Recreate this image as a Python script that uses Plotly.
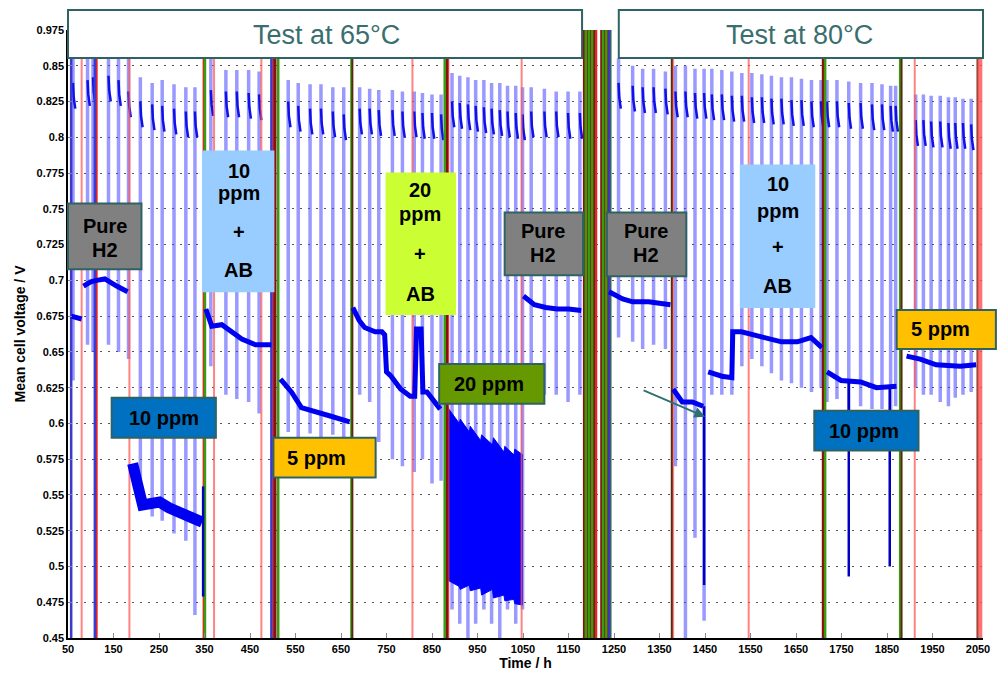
import plotly.graph_objects as go

# ---------------- data ----------------
x_ticks = [50, 150, 250, 350, 450, 550, 650, 750, 850, 950, 1050, 1150, 1250,
           1350, 1450, 1550, 1650, 1750, 1850, 1950, 2050]
y_ticks = [0.45, 0.475, 0.5, 0.525, 0.55, 0.575, 0.6, 0.625, 0.65, 0.675, 0.7,
           0.725, 0.75, 0.775, 0.8, 0.825, 0.85, 0.875]
y_ticktext = ["0.45", "0.475", "0.5", "0.525", "0.55", "0.575", "0.6", "0.625",
              "0.65", "0.675", "0.7", "0.725", "0.75", "0.775", "0.8", "0.825",
              "0.85", "0.975"]

# baseline voltage (None separates segments)
base_t = [57, 80, None,
          84, 100, 113, 131, 157, 181, None,
          353, 366, 388, 410, 432, 462, 497, None,
          517, 541, 563, 600, 628, 669, None,
          676, 690, 702, 725, 740, 746, 750, 760, 781, 802, 812, 816, 826, 830, 839, 855, 868, None,
          1051, 1075, 1100, 1125, 1150, 1178, None,
          1239, 1269, 1291, 1326, 1374, None,
          1380, 1400, 1422, 1446, None,
          1457, 1487, 1509, 1511, 1530, 1587, 1618, 1653, 1683, 1707, None,
          1718, 1749, 1792, 1827, 1871, None,
          1893, 1923, 1958, 2011, 2046]
base_v = [0.675, 0.673, None,
          0.696, 0.699, 0.700, 0.701, 0.696, 0.692, None,
          0.680, 0.668, 0.669, 0.664, 0.659, 0.655, 0.655, None,
          0.631, 0.622, 0.611, 0.608, 0.605, 0.601, None,
          0.681, 0.672, 0.667, 0.664, 0.664, 0.662, 0.636, 0.633, 0.624, 0.619, 0.619, 0.666, 0.666, 0.622, 0.622, 0.615, 0.610, None,
          0.689, 0.683, 0.681, 0.680, 0.680, 0.679, None,
          0.692, 0.687, 0.685, 0.685, 0.683, None,
          0.624, 0.615, 0.615, 0.612, None,
          0.636, 0.633, 0.632, 0.664, 0.664, 0.660, 0.657, 0.657, 0.660, 0.653, None,
          0.636, 0.630, 0.629, 0.625, 0.626, None,
          0.647, 0.645, 0.641, 0.640, 0.641]

# noisy 10 ppm segment at 65 C
noisy_t = [192, 198, 204, 214, 251, 272, 301, 323, 345]
noisy_v = [0.572, 0.566, 0.556, 0.543, 0.545, 0.541, 0.536, 0.534, 0.531]

# dense 20 ppm block (upper / lower envelope)
block_t = [885, 887, 910, 912, 932, 934, 957, 959, 983, 985, 1008, 1010, 1030, 1032, 1050]
block_top = [0.612, 0.610, 0.600, 0.603, 0.594, 0.598, 0.588, 0.592, 0.585, 0.590,
             0.580, 0.584, 0.578, 0.582, 0.578]
block_bot = [0.492, 0.490, 0.486, 0.484, 0.487, 0.483, 0.485, 0.480, 0.484, 0.478,
             0.480, 0.476, 0.477, 0.474, 0.473]

# sharp drops of the voltage
drop_t = [347, 1448, 1766, 1856]
drop_hi = [0.556, 0.612, 0.629, 0.625]
drop_lo = [0.479, 0.487, 0.493, 0.500]

# periodic spikes (refresh / polarisation)
spike_t = [61, 93, 105, 139, 161, 183,
           209, 235, 257, 283, 309, 329,
           364, 397, 421, 447, 470,
           534, 556, 582, 606, 632, 656,
           691, 713, 733, 763, 785, 811, 829, 850, 870,
           894, 911, 929, 946, 964, 981, 999, 1016, 1034, 1049,
           1068, 1097, 1123, 1149, 1175,
           1260, 1291, 1313, 1337, 1363,
           1385, 1407, 1428, 1448,
           1465, 1487, 1509, 1531, 1553, 1575, 1596, 1618, 1640, 1662, 1684, 1705,
           1718, 1740, 1766, 1792, 1817, 1839, 1858, 1869,
           1913, 1930, 1947, 1967, 1985, 2000, 2017, 2035]
spike_lo = [0.630, 0.655, 0.650, 0.655, 0.650, 0.645,
            0.553, 0.535, 0.532, 0.523, 0.518, 0.466,
            0.640, 0.620, 0.617, 0.615, 0.607,
            0.594, 0.590, 0.593, 0.590, 0.592, 0.588,
            0.620, 0.615, 0.587, 0.575, 0.570, 0.566, 0.575, 0.558, 0.560,
            0.470, 0.460, 0.450, 0.460, 0.470, 0.460, 0.450, 0.470, 0.460, 0.470,
            0.625, 0.620, 0.620, 0.615, 0.620,
            0.660, 0.657, 0.652, 0.655, 0.652,
            0.570, 0.450, 0.520, 0.462,
            0.620, 0.620, 0.620, 0.640, 0.645, 0.640, 0.635, 0.630, 0.628, 0.625, 0.622, 0.625,
            0.615, 0.617, 0.600, 0.612, 0.610, 0.610, 0.590, 0.612,
            0.625, 0.620, 0.620, 0.615, 0.612, 0.618, 0.620, 0.622]
spike_hi = [0.875, 0.875, 0.875, 0.875, 0.875, 0.875,
            0.842, 0.838, 0.840, 0.837, 0.835, 0.835,
            0.855, 0.847, 0.847, 0.847, 0.846,
            0.840, 0.838, 0.837, 0.837, 0.835, 0.835,
            0.835, 0.834, 0.833, 0.833, 0.832, 0.832, 0.831, 0.830, 0.830,
            0.845, 0.843, 0.842, 0.840, 0.840, 0.838, 0.838, 0.836, 0.836, 0.835,
            0.835, 0.834, 0.832, 0.832, 0.832,
            0.855, 0.850, 0.848, 0.848, 0.846,
            0.850, 0.850, 0.848, 0.848,
            0.848, 0.847, 0.846, 0.845, 0.845, 0.844, 0.843, 0.842, 0.842, 0.841, 0.840, 0.840,
            0.840, 0.840, 0.839, 0.838, 0.838, 0.837, 0.836, 0.836,
            0.830, 0.830, 0.829, 0.829, 0.828, 0.828, 0.827, 0.827]
spike_hook = [0.828, 0.830, 0.832, 0.833, 0.830, 0.822,
              0.815, 0.813, 0.812, 0.810, 0.808, 0.808,
              0.823, 0.822, 0.822, 0.821, 0.820,
              0.815, 0.812, 0.810, 0.810, 0.808, 0.806,
              0.810, 0.810, 0.809, 0.809, 0.808, 0.808, 0.807, 0.807, 0.806,
              0.815, 0.814, 0.813, 0.812, 0.811, 0.810, 0.809, 0.808, 0.807, 0.806,
              0.808, 0.808, 0.808, 0.807, 0.807,
              0.828, 0.826, 0.825, 0.825, 0.824,
              0.822, 0.822, 0.821, 0.821,
              0.820, 0.820, 0.819, 0.819, 0.818, 0.818, 0.817, 0.817, 0.816, 0.816, 0.815, 0.815,
              0.815, 0.815, 0.814, 0.814, 0.813, 0.813, 0.812, 0.812,
              0.802, 0.802, 0.801, 0.801, 0.800, 0.800, 0.800, 0.799]

# vertical event markers
mark_pink = [80, 185, 371, 475, 807, 886, 1047, 1380, 1546, 1911]
mark_red = [113, 348, 501, 1211]
mark_darkred = [505, 883, 1710, 1185, 1192, 1199, 1206, 1223, 1230, 1236]
mark_green = [351, 512, 673, 878, 1714, 1879, 1188, 1195, 1202, 1226, 1233, 1242]
mark_brown = [675, 1377, 1882, 2049]
mark_blue = [57, 109, 497, 1240]
mark_redband = [2054]

# ---------------- figure ----------------
Y0, Y1 = 0.45, 0.875
fig = go.Figure()


def vlines(ts, lo, hi):
    xs, ys = [], []
    for i, t in enumerate(ts):
        a = lo[i] if isinstance(lo, list) else lo
        b = hi[i] if isinstance(hi, list) else hi
        xs += [t, t, None]
        ys += [a, b, None]
    return xs, ys


# spikes (light blue)
sx, sy = vlines(spike_t, spike_lo, spike_hi)
fig.add_trace(go.Scatter(x=sx, y=sy, mode="lines",
                         line=dict(color="rgba(70,70,255,0.55)", width=3.5),
                         hoverinfo="skip", showlegend=False))

# hooks near the top of each spike
hx, hy = [], []
for t, h in zip(spike_t, spike_hook):
    hx += [t, t + 1.5, t + 5, None]
    hy += [h + 0.010, h, h - 0.008, None]
fig.add_trace(go.Scatter(x=hx, y=hy, mode="lines",
                         line=dict(color="#1010e8", width=2.5),
                         hoverinfo="skip", showlegend=False))

# dense 20 ppm block
fig.add_trace(go.Scatter(x=block_t, y=block_bot, mode="lines",
                         line=dict(color="#0000ff", width=1),
                         hoverinfo="skip", showlegend=False))
fig.add_trace(go.Scatter(x=block_t, y=block_top, mode="lines", fill="tonexty",
                         fillcolor="#0000ff", line=dict(color="#0000ff", width=1),
                         hoverinfo="skip", showlegend=False))

# markers
for ts, col, w in [(mark_pink, "rgba(255,90,90,0.75)", 2),
                   (mark_red, "#e82020", 2),
                   (mark_darkred, "#8a1010", 3),
                   (mark_green, "#3a9a10", 2.5),
                   (mark_brown, "#5a2a10", 2),
                   (mark_blue, "#3a3ad0", 2.5),
                   (mark_redband, "rgba(255,80,80,0.8)", 5)]:
    mx, my = vlines(ts, Y0, Y1)
    fig.add_trace(go.Scatter(x=mx, y=my, mode="lines", line=dict(color=col, width=w),
                             hoverinfo="skip", showlegend=False))

# baseline
fig.add_trace(go.Scatter(x=base_t, y=base_v, mode="lines",
                         line=dict(color="#0000f0", width=5),
                         hoverinfo="skip", showlegend=False))
fig.add_trace(go.Scatter(x=noisy_t, y=noisy_v, mode="lines",
                         line=dict(color="#0000f0", width=11),
                         hoverinfo="skip", showlegend=False))
dx, dy = vlines(drop_t, drop_lo, drop_hi)
fig.add_trace(go.Scatter(x=dx, y=dy, mode="lines",
                         line=dict(color="#0000c0", width=2.5),
                         hoverinfo="skip", showlegend=False))

# ---------------- layout helpers (pixel -> paper) ----------------
L, R, T, B = 68, 990, 30, 640


def px(x):
    return (x - L) / (R - L)


def py(y):
    return (B - y) / (B - T)


shapes, annos = [], []
BORDER = "#2f6262"
FONT = "Liberation Sans, Arial, sans-serif"


def box(x0, y0, x1, y1, fill, border=True):
    shapes.append(dict(type="rect", xref="paper", yref="paper", layer="above",
                       x0=px(x0), x1=px(x1), y0=py(y1), y1=py(y0),
                       fillcolor=fill,
                       line=dict(color=BORDER if border else fill, width=2 if border else 0)))


def text(x, y, s, size=20, color="black", bold=True):
    annos.append(dict(xref="paper", yref="paper", x=px(x), y=py(y), text=s,
                      showarrow=False, xanchor="center", yanchor="middle",
                      font=dict(family=FONT, size=size, color=color,
                                weight="bold" if bold else "normal")))


# top boxes
box(68, 10, 586, 58, "white")
text(328, 35, "Test at 65°C", size=27, color="#3b6e6e", bold=False)
box(623, 10, 990, 58, "white")
text(805, 35, "Test at 80°C", size=27, color="#3b6e6e", bold=False)

# condition labels
box(68, 204, 142, 270, "#808080")
text(105, 227, "Pure")
text(105, 251, "H2")
box(203, 151, 276, 293, "#99ccff", border=False)
text(240, 171, "10")
text(240, 194, "ppm")
text(240, 233, "+")
text(240, 271, "AB")
box(112, 399, 217, 439, "#0070c0")
text(165, 419, "10 ppm")
box(275, 439, 378, 479, "#ffc000")
text(318, 459, "5 ppm")
box(388, 173, 459, 316, "#ccff33", border=False)
text(423, 191, "20")
text(423, 215, "ppm")
text(423, 255, "+")
text(423, 295, "AB")
box(508, 213, 587, 276, "#808080")
text(547, 232, "Pure")
text(547, 256, "H2")
box(442, 365, 548, 405, "#669900")
text(492, 385, "20 ppm")
box(611, 213, 691, 277, "#808080")
text(650, 232, "Pure")
text(650, 256, "H2")
box(745, 165, 821, 309, "#99ccff", border=False)
text(783, 185, "10")
text(783, 212, "ppm")
text(783, 248, "+")
text(783, 287, "AB")
box(820, 412, 925, 452, "#0070c0")
text(870, 432, "10 ppm")
box(903, 311, 1003, 350, "#ffc000")
text(947, 330, "5 ppm")

# arrow
annos.append(dict(xref="paper", yref="paper", x=px(710), y=py(418), ax=-63, ay=-27,
                  axref="pixel", ayref="pixel", text="", showarrow=True,
                  arrowhead=2, arrowsize=1.2, arrowwidth=1.8, arrowcolor="#2f6f6f"))

tickfont = dict(family=FONT, size=11, color="black", weight="bold")
fig.update_layout(
    width=1000, height=677,
    margin=dict(l=L, r=1000 - R, t=T, b=677 - B),
    paper_bgcolor="white", plot_bgcolor="white",
    showlegend=False,
    shapes=shapes, annotations=annos,
    xaxis=dict(range=[50, 2061], tickvals=x_ticks, showgrid=False,
               showline=True, linecolor="black", linewidth=1.5,
               ticks="inside", ticklen=5, tickcolor="#888", tickfont=tickfont,
               zeroline=False,
               title=dict(text="Time / h", font=dict(family=FONT, size=14, color="black", weight="bold"),
                          standoff=2)),
    yaxis=dict(range=[Y0, Y1], tickvals=y_ticks, ticktext=y_ticktext,
               showgrid=True, gridcolor="#555", gridwidth=1, griddash="2px,6px",
               showline=True, linecolor="black", linewidth=1.5,
               ticks="inside", ticklen=4, tickcolor="#888", tickfont=tickfont,
               zeroline=False,
               title=dict(text="Mean cell voltage / V",
                          font=dict(family=FONT, size=14, color="black", weight="bold"),
                          standoff=8)),
)

fig.write_html("out.html")
